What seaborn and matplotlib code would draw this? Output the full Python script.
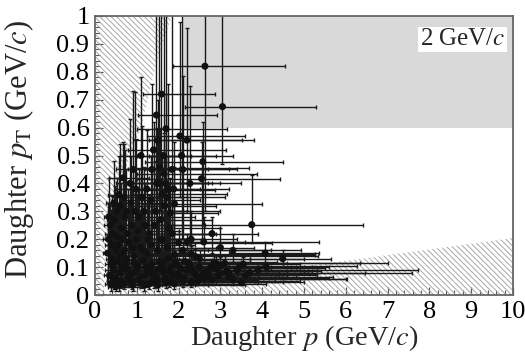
import numpy as np
import pandas as pd
import matplotlib
matplotlib.use("Agg")
import matplotlib.pyplot as plt
import seaborn as sns

# ---------------- data ----------------
# prominent isolated measurements
iso_p     = [2.63, 3.05, 2.58, 2.55, 3.75, 1.59, 1.47, 2.03, 2.20, 4.07, 4.49]
iso_p_lo  = [1.87, 2.15, 1.20, 1.00, 2.63, 1.15, 1.03, 1.24, 1.30, 3.20, 3.70]
iso_p_hi  = [4.55, 5.28, 4.49, 4.43, 6.41, 2.87, 2.92, 3.59, 3.52, 5.36, 5.00]
iso_pt    = [0.82, 0.675, 0.478, 0.417, 0.252, 0.72, 0.645, 0.57, 0.555, 0.15, 0.13]
iso_pt_lo = [0.30, 0.47, 0.25, 0.20, 0.187, 0.45, 0.40, 0.35, 0.30, 0.10, 0.10]
iso_pt_hi = [1.05, 1.05, 0.62, 0.55, 0.43, 1.05, 1.05, 0.98, 0.957, 0.19, 0.162]

# intermediate-pT measurements (tall vertical error bars)
mid_p     = [0.32, 0.37, 0.41, 0.47, 0.53, 0.60, 0.69, 0.72, 0.84, 0.92, 0.95, 1.10, 1.12, 1.24,
             1.36, 1.64, 1.69, 1.74, 1.84, 2.07, 2.10, 2.27, 1.52, 0.55, 0.65, 0.78, 0.88, 1.00,
             1.05, 1.20, 1.30, 1.45, 1.60, 1.80, 1.90, 1.75, 1.40, 1.55, 1.65, 1.70, 1.50, 0.30,
             0.50, 0.42, 0.62, 0.90, 1.15, 1.35, 1.60, 1.85, 2.30, 2.60, 3.00, 3.30, 2.80,
             0.33, 0.39, 0.45, 0.51, 0.57, 0.63, 0.67, 0.75, 0.81, 0.86, 0.98, 1.03, 1.17, 1.27,
             1.33, 1.42, 1.48, 1.57, 1.67, 1.78, 1.88, 0.70, 0.93, 1.08, 1.25, 1.50, 1.72]
mid_p_lo  = [0.20, 0.22, 0.25, 0.28, 0.30, 0.35, 0.40, 0.40, 0.50, 0.50, 0.55, 0.60, 0.60, 0.70,
             0.80, 1.00, 1.10, 1.00, 1.20, 1.30, 1.40, 1.50, 0.90, 0.30, 0.35, 0.40, 0.45, 0.50,
             0.55, 0.60, 0.70, 0.80, 0.90, 1.00, 1.10, 1.00, 0.80, 0.90, 1.00, 1.00, 0.90, 0.20,
             0.30, 0.27, 0.35, 0.45, 0.60, 0.70, 0.80, 0.90, 1.30, 1.50, 2.00, 2.20, 1.80,
             0.22, 0.24, 0.27, 0.28, 0.30, 0.32, 0.34, 0.38, 0.40, 0.42, 0.50, 0.50, 0.60, 0.65,
             0.70, 0.75, 0.80, 0.85, 0.90, 1.00, 1.10, 0.36, 0.45, 0.55, 0.60, 0.75, 0.90]
mid_p_hi  = [0.60, 0.70, 0.90, 1.00, 1.10, 1.40, 1.50, 1.60, 1.80, 2.00, 2.10, 2.30, 2.20, 2.50,
             2.70, 2.90, 3.00, 3.10, 3.20, 3.30, 3.40, 3.50, 2.80, 1.20, 1.40, 1.70, 1.90, 2.20,
             2.40, 2.60, 2.80, 3.00, 3.15, 2.95, 3.99, 2.87, 3.13, 3.68, 3.87, 3.15, 3.80, 0.50,
             0.90, 0.80, 1.30, 1.50, 2.00, 2.40, 2.60, 2.90, 3.40, 3.60, 3.80, 4.20, 3.90,
             0.60, 0.75, 0.85, 0.95, 1.10, 1.20, 1.30, 1.40, 1.60, 1.70, 1.90, 2.00, 2.20, 2.30,
             2.50, 2.60, 2.70, 2.80, 2.90, 3.00, 3.20, 1.50, 1.80, 2.10, 2.40, 2.70, 2.90]
mid_pt    = [0.20, 0.25, 0.22, 0.27, 0.30, 0.32, 0.35, 0.28, 0.40, 0.45, 0.30, 0.50, 0.35, 0.38,
             0.45, 0.50, 0.40, 0.35, 0.45, 0.50, 0.45, 0.40, 0.40, 0.18, 0.20, 0.22, 0.25, 0.20,
             0.28, 0.25, 0.22, 0.30, 0.362, 0.294, 0.327, 0.378, 0.52, 0.456, 0.435, 0.596, 0.554, 0.15,
             0.16, 0.13, 0.14, 0.17, 0.16, 0.18, 0.20, 0.22, 0.20, 0.19, 0.17, 0.16, 0.22,
             0.28, 0.18, 0.33, 0.21, 0.36, 0.24, 0.42, 0.30, 0.19, 0.33, 0.38, 0.23, 0.30, 0.20,
             0.34, 0.25, 0.40, 0.27, 0.32, 0.24, 0.38, 0.16, 0.14, 0.17, 0.15, 0.16, 0.17]
mid_pt_lo = [0.08, 0.10, 0.08, 0.10, 0.12, 0.10, 0.12, 0.10, 0.15, 0.10, 0.08, 0.15, 0.12, 0.15,
             0.10, 0.10, 0.08, 0.10, 0.15, 0.20, 0.20, 0.18, 0.10, 0.07, 0.08, 0.08, 0.10, 0.07,
             0.10, 0.10, 0.09, 0.12, 0.20, 0.15, 0.20, 0.25, 0.30, 0.30, 0.28, 0.40, 0.40, 0.05,
             0.06, 0.04, 0.05, 0.06, 0.07, 0.08, 0.09, 0.10, 0.12, 0.12, 0.12, 0.12, 0.15,
             0.12, 0.06, 0.14, 0.08, 0.15, 0.09, 0.20, 0.12, 0.08, 0.14, 0.15, 0.09, 0.12, 0.08,
             0.13, 0.10, 0.15, 0.10, 0.12, 0.10, 0.15, 0.06, 0.05, 0.06, 0.06, 0.07, 0.08]
mid_pt_hi = [0.33, 0.33, 0.354, 0.39, 0.42, 0.54, 0.54, 0.52, 0.63, 0.73, 0.729, 0.78, 0.605, 0.59,
             0.757, 1.05, 1.05, 0.755, 1.05, 1.05, 0.785, 0.75, 1.05, 0.30, 0.35, 0.38, 0.40, 0.36,
             0.45, 0.40, 0.36, 0.48, 0.50, 0.42, 0.46, 0.50, 0.62, 0.60, 0.58, 0.72, 0.70, 0.25,
             0.28, 0.32, 0.30, 0.31, 0.30, 0.32, 0.35, 0.33, 0.30, 0.28, 0.24, 0.22, 0.28,
             0.42, 0.30, 0.48, 0.35, 0.50, 0.40, 0.55, 0.45, 0.33, 0.50, 0.56, 0.38, 0.46, 0.34,
             0.50, 0.40, 0.60, 0.42, 0.50, 0.40, 0.55, 0.27, 0.26, 0.29, 0.27, 0.28, 0.29]

# low-pT band (long horizontal error bars)
band_p     = [0.45, 0.60, 0.80, 1.00, 1.20, 1.40, 1.60, 1.80, 2.00, 2.20, 2.40, 2.60, 2.80, 3.00,
              3.20, 3.40, 3.10, 2.90, 2.70, 3.00, 2.50, 2.40, 2.30, 2.20, 2.10, 1.90, 2.00, 0.50,
              0.70, 0.90, 1.10, 1.30, 1.50, 1.70, 1.90, 2.10, 2.30, 0.40, 0.55, 0.75, 0.95, 1.15,
              1.35, 1.55, 1.75, 1.95, 2.15, 2.50, 2.70, 3.30, 3.60, 0.35, 0.65, 0.85, 1.05, 1.25,
              1.45, 1.65, 1.85, 2.05, 2.35, 2.90, 3.50,
              0.38, 0.50, 0.62, 0.78, 0.92, 1.08, 1.22, 1.38, 1.52, 1.68, 1.82, 1.98, 2.12, 2.28,
              2.45, 2.62, 2.78, 2.95, 3.15, 3.45, 3.70, 3.90, 4.10, 0.45, 0.58, 0.72, 0.88, 1.02,
              1.18, 1.32, 1.48, 1.62, 1.78, 1.92, 2.08, 2.25, 2.55, 2.85, 3.20, 3.55]
band_p_lo  = [0.28, 0.30, 0.35, 0.40, 0.50, 0.60, 0.70, 0.80, 0.90, 1.00, 1.10, 1.30, 1.40, 1.50,
              1.60, 1.80, 1.70, 1.50, 1.30, 1.60, 1.20, 1.10, 1.00, 0.90, 0.90, 0.80, 0.90, 0.30,
              0.32, 0.40, 0.50, 0.55, 0.70, 0.80, 0.90, 1.00, 1.10, 0.25, 0.30, 0.35, 0.45, 0.50,
              0.60, 0.70, 0.80, 0.90, 1.00, 1.20, 1.40, 1.90, 2.20, 0.22, 0.30, 0.40, 0.45, 0.55,
              0.65, 0.75, 0.85, 0.95, 1.10, 1.40, 2.00,
              0.25, 0.28, 0.30, 0.35, 0.40, 0.45, 0.50, 0.60, 0.65, 0.75, 0.80, 0.90, 0.95, 1.05,
              1.15, 1.25, 1.35, 1.50, 1.70, 2.00, 2.30, 2.60, 2.80, 0.25, 0.30, 0.33, 0.40, 0.45,
              0.50, 0.55, 0.65, 0.70, 0.80, 0.85, 0.95, 1.00, 1.20, 1.40, 1.70, 2.00]
band_p_hi  = [1.60, 2.20, 2.60, 3.10, 3.40, 3.80, 4.20, 4.40, 4.60, 4.90, 5.30, 5.60, 6.00, 6.27,
              7.58, 7.73, 6.34, 7.01, 5.70, 6.46, 5.64, 5.34, 5.26, 5.36, 4.94, 5.26, 4.23, 1.30,
              1.90, 2.40, 2.90, 3.30, 3.60, 3.90, 4.10, 4.30, 4.50, 1.00, 1.50, 2.00, 2.50, 2.80,
              3.20, 3.50, 3.70, 4.00, 4.35, 4.80, 5.10, 6.02, 4.60, 0.80, 1.70, 2.20, 2.60, 3.00,
              3.40, 3.60, 3.90, 4.20, 4.60, 5.50, 5.00,
              1.20, 1.80, 2.00, 2.30, 2.70, 3.00, 3.20, 3.50, 3.70, 3.90, 4.10, 4.30, 4.50, 4.70,
              4.90, 5.00, 5.20, 5.30, 5.40, 5.60, 5.20, 5.30, 5.00, 1.40, 1.60, 1.80, 2.10, 2.40,
              2.70, 2.90, 3.10, 3.30, 3.50, 3.70, 3.90, 4.10, 4.40, 4.60, 4.80, 4.90]
band_pt    = [0.050, 0.080, 0.060, 0.090, 0.070, 0.050, 0.100, 0.080, 0.065, 0.090, 0.075, 0.060, 0.056, 0.105,
              0.078, 0.090, 0.114, 0.114, 0.066, 0.078, 0.130, 0.138, 0.147, 0.190, 0.160, 0.144, 0.188, 0.030,
              0.040, 0.035, 0.045, 0.040, 0.035, 0.045, 0.040, 0.050, 0.045, 0.110, 0.120, 0.130, 0.115, 0.125,
              0.110, 0.120, 0.130, 0.110, 0.120, 0.100, 0.085, 0.056, 0.070, 0.070, 0.100, 0.075, 0.055, 0.085,
              0.065, 0.085, 0.070, 0.095, 0.085, 0.095, 0.045,
              0.040, 0.060, 0.050, 0.090, 0.080, 0.065, 0.100, 0.075, 0.090, 0.060, 0.100, 0.075, 0.060, 0.100,
              0.050, 0.080, 0.100, 0.070, 0.085, 0.100, 0.080, 0.090, 0.100, 0.090, 0.035, 0.110, 0.045, 0.105,
              0.035, 0.095, 0.055, 0.115, 0.050, 0.120, 0.055, 0.110, 0.065, 0.115, 0.065, 0.110]
band_pt_lo = [0.020, 0.040, 0.030, 0.050, 0.040, 0.025, 0.060, 0.050, 0.035, 0.060, 0.045, 0.040, 0.035, 0.075,
              0.055, 0.065, 0.090, 0.090, 0.040, 0.050, 0.100, 0.110, 0.120, 0.160, 0.130, 0.110, 0.150, 0.015,
              0.020, 0.015, 0.025, 0.020, 0.015, 0.025, 0.020, 0.030, 0.030, 0.060, 0.070, 0.080, 0.070, 0.080,
              0.070, 0.080, 0.090, 0.070, 0.090, 0.070, 0.060, 0.040, 0.050, 0.030, 0.050, 0.040, 0.030, 0.050,
              0.040, 0.050, 0.045, 0.065, 0.060, 0.070, 0.035,
              0.015, 0.030, 0.025, 0.050, 0.045, 0.035, 0.060, 0.045, 0.055, 0.035, 0.065, 0.050, 0.040, 0.070,
              0.035, 0.055, 0.075, 0.050, 0.065, 0.080, 0.065, 0.075, 0.085, 0.040, 0.015, 0.060, 0.020, 0.060,
              0.015, 0.055, 0.030, 0.070, 0.030, 0.080, 0.035, 0.080, 0.045, 0.090, 0.050, 0.090]
band_pt_hi = [0.090, 0.130, 0.100, 0.140, 0.110, 0.085, 0.150, 0.120, 0.100, 0.130, 0.110, 0.090, 0.080, 0.135,
              0.100, 0.115, 0.140, 0.140, 0.090, 0.105, 0.160, 0.165, 0.175, 0.220, 0.190, 0.180, 0.230, 0.050,
              0.065, 0.060, 0.070, 0.065, 0.055, 0.070, 0.060, 0.075, 0.065, 0.160, 0.180, 0.190, 0.170, 0.180,
              0.160, 0.170, 0.180, 0.150, 0.155, 0.130, 0.110, 0.075, 0.095, 0.120, 0.150, 0.120, 0.090, 0.130,
              0.100, 0.120, 0.100, 0.130, 0.110, 0.120, 0.060,
              0.070, 0.100, 0.080, 0.130, 0.120, 0.100, 0.140, 0.110, 0.125, 0.090, 0.135, 0.105, 0.085, 0.130,
              0.070, 0.105, 0.125, 0.090, 0.105, 0.120, 0.100, 0.110, 0.120, 0.140, 0.060, 0.160, 0.070, 0.150,
              0.060, 0.140, 0.085, 0.160, 0.075, 0.160, 0.080, 0.145, 0.090, 0.140, 0.085, 0.135]

# excluded (hatched) regions and the highlighted window
hatch_left_p  = [0.0, 0.22, 0.22, 0.35, 0.60, 1.10, 1.50, 1.84, 0.0]
hatch_left_pt = [0.0, 0.0, 0.10, 0.25, 0.40, 0.60, 0.85, 1.00, 1.0]
hatch_low_p   = [0.0, 10.0, 10.0]
hatch_low_pt  = [0.0, 0.0, 0.205]
window_p  = [2.07, 10.0]
window_pt = [0.6, 1.0]
label_text = "2 GeV/$c$"

# ---------------- build table ----------------
frames = []
for name, p, plo, phi, pt, ptlo, pthi in [
        ("band", band_p, band_p_lo, band_p_hi, band_pt, band_pt_lo, band_pt_hi),
        ("mid", mid_p, mid_p_lo, mid_p_hi, mid_pt, mid_pt_lo, mid_pt_hi),
        ("iso", iso_p, iso_p_lo, iso_p_hi, iso_pt, iso_pt_lo, iso_pt_hi)]:
    frames.append(pd.DataFrame({"group": name, "p": p, "p_lo": plo, "p_hi": phi,
                                "pt": pt, "pt_lo": ptlo, "pt_hi": pthi}))
df = pd.concat(frames, ignore_index=True)

# ---------------- style ----------------
sns.set_style("ticks")
plt.rcParams["font.family"] = ["Liberation Serif", "DejaVu Serif"]
plt.rcParams["mathtext.fontset"] = "stix"
plt.rcParams["hatch.color"] = "#a8a8a8"
plt.rcParams["hatch.linewidth"] = 0.7

fig = plt.figure(figsize=(5.25, 3.57), dpi=100)
ax = fig.add_axes([95 / 525, 62 / 357, 418 / 525, 279 / 357])

# highlighted window
ax.fill_between(window_p, window_pt[0], window_pt[1], color="#d9d9d9", lw=0, zorder=0)
# hatched exclusion regions
ax.fill(hatch_left_p, hatch_left_pt, facecolor="none", edgecolor="#a8a8a8",
        hatch="\\\\\\\\\\\\", lw=0, zorder=1)
ax.fill(hatch_low_p, hatch_low_pt, facecolor="none", edgecolor="#a8a8a8",
        hatch="\\\\\\\\\\\\", lw=0, zorder=1)

xerr = np.vstack([df["p"] - df["p_lo"], df["p_hi"] - df["p"]])
yerr = np.vstack([df["pt"] - df["pt_lo"], df["pt_hi"] - df["pt"]])
ax.errorbar(df["p"], df["pt"], xerr=xerr, yerr=yerr, fmt="none", ecolor="#1a1a1a",
            elinewidth=1.0, capsize=1.6, capthick=1.0, zorder=2)
sns.scatterplot(data=df, x="p", y="pt", color="#111111", s=26, edgecolor="none",
                legend=False, ax=ax, zorder=3)

ax.text(9.82, 0.917, label_text, ha="right", va="center", fontsize=18, zorder=5,
        bbox=dict(facecolor="white", edgecolor="none", pad=1.0))

ax.set_xlim(0, 10)
ax.set_ylim(0, 1)
ax.set_xticks(np.arange(0, 11, 1))
ax.set_xticklabels([str(i) for i in range(11)])
ax.set_yticks(np.round(np.arange(0, 1.01, 0.1), 1))
ax.set_yticklabels(["0"] + ["%.1f" % v for v in np.arange(0.1, 0.95, 0.1)] + ["1"])
ax.set_xticks(np.arange(0, 10.01, 0.2), minor=True)
ax.set_yticks(np.arange(0, 1.001, 0.02), minor=True)
ax.tick_params(which="both", direction="in", colors="#555555", labelcolor="black",
               labelsize=19, top=False, right=False)
ax.tick_params(which="major", length=6, width=0.9, pad=4)
ax.tick_params(which="minor", length=3.5, width=0.8)
for s in ax.spines.values():
    s.set_color("#666666")
    s.set_linewidth(1.3)

ax.set_xlabel("Daughter $p$ (GeV/$c$)", fontsize=20.5)
ax.set_ylabel("Daughter $p_{\\mathrm{T}}$ (GeV/$c$)", fontsize=22)
ax.xaxis.set_label_coords(0.5, -0.1)
ax.yaxis.set_label_coords(-0.14, 0.52)

fig.savefig("out.png", dpi=100)
